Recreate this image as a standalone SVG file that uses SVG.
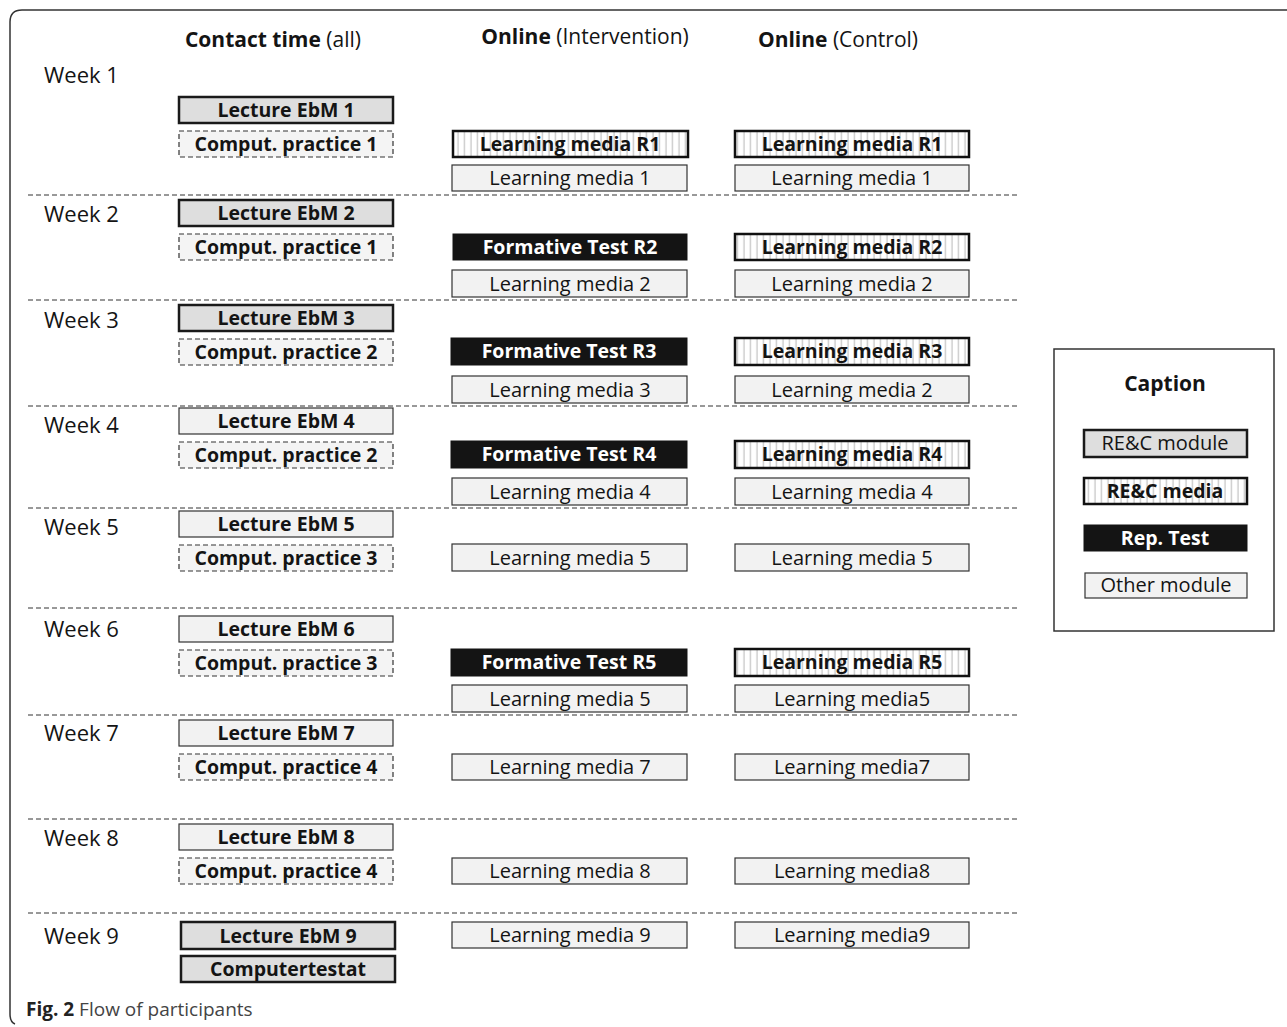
<svg xmlns="http://www.w3.org/2000/svg" width="1287" height="1027" viewBox="0 0 1287 1027">
<defs>
<pattern id="stripes" patternUnits="userSpaceOnUse" width="6.5" height="10" x="0" y="0">
<rect width="6.5" height="10" fill="#ffffff"/>
<line x1="3" y1="0" x2="3" y2="10" stroke="#c2c2c2" stroke-width="1.2"/>
</pattern>
<style>
text{font-family:"Open Sans","Liberation Sans",sans-serif;fill:#141414;}
.wk{font-size:22px;}
.hd{font-size:21px;text-anchor:middle;}
.b{font-weight:bold;}
.t{font-size:20px;text-anchor:middle;}
.tb{font-size:19.5px;font-weight:bold;text-anchor:middle;}
.tw{font-size:19.5px;font-weight:bold;text-anchor:middle;fill:#ffffff;}
.hi{fill:#dedede;stroke:#1a1a1a;stroke-width:2.5;}
.lo{fill:#f2f2f2;stroke:#333;stroke-width:1.2;}
.pr{fill:#f4f4f4;stroke:#333;stroke-width:1.2;stroke-dasharray:5 3;}
.st{fill:url(#stripes);stroke:#111;stroke-width:2.5;}
.bk{fill:#141414;stroke:#141414;stroke-width:1;}
.sep{stroke:#333;stroke-width:1;stroke-dasharray:5 3;fill:none;}
</style>
</defs>
<rect width="1287" height="1027" fill="#ffffff"/>
<path d="M1287 10 H22 Q10 10 10 22 V1014 Q10 1022 15 1024" fill="none" stroke="#333" stroke-width="1.5"/>

<g id="headers">
<text class="hd" x="273" y="47"><tspan class="b">Contact time</tspan> (all)</text>
<text class="hd" x="585" y="44"><tspan class="b">Online</tspan> (Intervention)</text>
<text class="hd" x="838" y="47"><tspan class="b">Online</tspan> (Control)</text>
</g>

<g id="week-labels">
<text class="wk" x="44" y="83">Week 1</text>
<text class="wk" x="44" y="222">Week 2</text>
<text class="wk" x="44" y="328">Week 3</text>
<text class="wk" x="44" y="433">Week 4</text>
<text class="wk" x="44" y="535">Week 5</text>
<text class="wk" x="44" y="637">Week 6</text>
<text class="wk" x="44" y="741">Week 7</text>
<text class="wk" x="44" y="846">Week 8</text>
<text class="wk" x="44" y="944">Week 9</text>
</g>

<g id="dividers">
<line class="sep" x1="28" y1="195" x2="1018" y2="195"/>
<line class="sep" x1="28" y1="300" x2="1018" y2="300"/>
<line class="sep" x1="28" y1="406" x2="1018" y2="406"/>
<line class="sep" x1="28" y1="508" x2="1018" y2="508"/>
<line class="sep" x1="28" y1="608" x2="1018" y2="608"/>
<line class="sep" x1="28" y1="715" x2="1018" y2="715"/>
<line class="sep" x1="28" y1="819" x2="1018" y2="819"/>
<line class="sep" x1="28" y1="913" x2="1018" y2="913"/>
</g>

<!-- Week 1 -->
<g id="w1-lecture"><rect class="hi" x="179" y="97" width="214" height="26"/><text class="tb" x="286" y="117">Lecture EbM 1</text></g>
<g id="w1-practice"><rect class="pr" x="179" y="131" width="214" height="26"/><text class="tb" x="286" y="151">Comput. practice 1</text></g>
<g id="w1-int-r"><rect class="st" x="453" y="131" width="235" height="26"/><text class="tb" x="570" y="151">Learning media R1</text></g>
<g id="w1-int-m"><rect class="lo" x="452" y="165" width="235" height="26"/><text class="t" x="570" y="185">Learning media 1</text></g>
<g id="w1-ctl-r"><rect class="st" x="735" y="131" width="234" height="26"/><text class="tb" x="852" y="151">Learning media R1</text></g>
<g id="w1-ctl-m"><rect class="lo" x="735" y="165" width="234" height="26"/><text class="t" x="852" y="185">Learning media 1</text></g>

<!-- Week 2 -->
<g id="w2-lecture"><rect class="hi" x="179" y="200" width="214" height="26"/><text class="tb" x="286" y="220">Lecture EbM 2</text></g>
<g id="w2-practice"><rect class="pr" x="179" y="234" width="214" height="26"/><text class="tb" x="286" y="254">Comput. practice 1</text></g>
<g id="w2-int-t"><rect class="bk" x="453" y="234" width="234" height="26"/><text class="tw" x="570" y="254">Formative Test R2</text></g>
<g id="w2-int-m"><rect class="lo" x="452" y="270" width="235" height="27"/><text class="t" x="570" y="291">Learning media 2</text></g>
<g id="w2-ctl-r"><rect class="st" x="735" y="234" width="234" height="26"/><text class="tb" x="852" y="254">Learning media R2</text></g>
<g id="w2-ctl-m"><rect class="lo" x="735" y="270" width="234" height="27"/><text class="t" x="852" y="291">Learning media 2</text></g>

<!-- Week 3 -->
<g id="w3-lecture"><rect class="hi" x="179" y="305" width="214" height="26"/><text class="tb" x="286" y="325">Lecture EbM 3</text></g>
<g id="w3-practice"><rect class="pr" x="179" y="339" width="214" height="26"/><text class="tb" x="286" y="359">Comput. practice 2</text></g>
<g id="w3-int-t"><rect class="bk" x="451" y="338" width="236" height="27"/><text class="tw" x="569" y="358">Formative Test R3</text></g>
<g id="w3-int-m"><rect class="lo" x="452" y="376" width="235" height="27"/><text class="t" x="570" y="397">Learning media 3</text></g>
<g id="w3-ctl-r"><rect class="st" x="735" y="338" width="234" height="27"/><text class="tb" x="852" y="358">Learning media R3</text></g>
<g id="w3-ctl-m"><rect class="lo" x="735" y="376" width="234" height="27"/><text class="t" x="852" y="397">Learning media 2</text></g>

<!-- Week 4 -->
<g id="w4-lecture"><rect class="lo" x="179" y="408" width="214" height="26"/><text class="tb" x="286" y="428">Lecture EbM 4</text></g>
<g id="w4-practice"><rect class="pr" x="179" y="442" width="214" height="26"/><text class="tb" x="286" y="462">Comput. practice 2</text></g>
<g id="w4-int-t"><rect class="bk" x="451" y="441" width="236" height="27"/><text class="tw" x="569" y="461">Formative Test R4</text></g>
<g id="w4-int-m"><rect class="lo" x="452" y="478" width="235" height="27"/><text class="t" x="570" y="499">Learning media 4</text></g>
<g id="w4-ctl-r"><rect class="st" x="735" y="441" width="234" height="27"/><text class="tb" x="852" y="461">Learning media R4</text></g>
<g id="w4-ctl-m"><rect class="lo" x="735" y="478" width="234" height="27"/><text class="t" x="852" y="499">Learning media 4</text></g>

<!-- Week 5 -->
<g id="w5-lecture"><rect class="lo" x="179" y="511" width="214" height="26"/><text class="tb" x="286" y="531">Lecture EbM 5</text></g>
<g id="w5-practice"><rect class="pr" x="179" y="545" width="214" height="26"/><text class="tb" x="286" y="565">Comput. practice 3</text></g>
<g id="w5-int-m"><rect class="lo" x="452" y="544" width="235" height="27"/><text class="t" x="570" y="565">Learning media 5</text></g>
<g id="w5-ctl-m"><rect class="lo" x="735" y="544" width="234" height="27"/><text class="t" x="852" y="565">Learning media 5</text></g>

<!-- Week 6 -->
<g id="w6-lecture"><rect class="lo" x="179" y="616" width="214" height="26"/><text class="tb" x="286" y="636">Lecture EbM 6</text></g>
<g id="w6-practice"><rect class="pr" x="179" y="650" width="214" height="26"/><text class="tb" x="286" y="670">Comput. practice 3</text></g>
<g id="w6-int-t"><rect class="bk" x="451" y="649" width="236" height="27"/><text class="tw" x="569" y="669">Formative Test R5</text></g>
<g id="w6-int-m"><rect class="lo" x="452" y="685" width="235" height="27"/><text class="t" x="570" y="706">Learning media 5</text></g>
<g id="w6-ctl-r"><rect class="st" x="735" y="649" width="234" height="27"/><text class="tb" x="852" y="669">Learning media R5</text></g>
<g id="w6-ctl-m"><rect class="lo" x="735" y="685" width="234" height="27"/><text class="t" x="852" y="706">Learning media5</text></g>

<!-- Week 7 -->
<g id="w7-lecture"><rect class="lo" x="179" y="720" width="214" height="26"/><text class="tb" x="286" y="740">Lecture EbM 7</text></g>
<g id="w7-practice"><rect class="pr" x="179" y="754" width="214" height="26"/><text class="tb" x="286" y="774">Comput. practice 4</text></g>
<g id="w7-int-m"><rect class="lo" x="452" y="754" width="235" height="26"/><text class="t" x="570" y="774">Learning media 7</text></g>
<g id="w7-ctl-m"><rect class="lo" x="735" y="754" width="234" height="26"/><text class="t" x="852" y="774">Learning media7</text></g>

<!-- Week 8 -->
<g id="w8-lecture"><rect class="lo" x="179" y="824" width="214" height="26"/><text class="tb" x="286" y="844">Lecture EbM 8</text></g>
<g id="w8-practice"><rect class="pr" x="179" y="858" width="214" height="26"/><text class="tb" x="286" y="878">Comput. practice 4</text></g>
<g id="w8-int-m"><rect class="lo" x="452" y="858" width="235" height="26"/><text class="t" x="570" y="878">Learning media 8</text></g>
<g id="w8-ctl-m"><rect class="lo" x="735" y="858" width="234" height="26"/><text class="t" x="852" y="878">Learning media8</text></g>

<!-- Week 9 -->
<g id="w9-lecture"><rect class="hi" x="181" y="922" width="214" height="27"/><text class="tb" x="288" y="943">Lecture EbM 9</text></g>
<g id="w9-test"><rect class="hi" x="181" y="956" width="214" height="26"/><text class="tb" x="288" y="976">Computertestat</text></g>
<g id="w9-int-m"><rect class="lo" x="452" y="922" width="235" height="26"/><text class="t" x="570" y="942">Learning media 9</text></g>
<g id="w9-ctl-m"><rect class="lo" x="735" y="922" width="234" height="26"/><text class="t" x="852" y="942">Learning media9</text></g>

<!-- Legend -->
<g id="legend">
<rect x="1054" y="349" width="220" height="282" fill="#ffffff" stroke="#333" stroke-width="1.5"/>
<text x="1165" y="391" style="font-size:21px;font-weight:bold;text-anchor:middle">Caption</text>
<g id="legend-rec-module"><rect class="hi" x="1084" y="430" width="163" height="27"/><text class="t" x="1165" y="450">RE&amp;C module</text></g>
<g id="legend-rec-media"><rect class="st" x="1084" y="478" width="163" height="26"/><text class="tb" x="1165" y="498">RE&amp;C media</text></g>
<g id="legend-rep-test"><rect class="bk" x="1084" y="525" width="163" height="26"/><text class="tw" x="1165" y="545">Rep. Test</text></g>
<g id="legend-other"><rect class="lo" x="1085" y="573" width="162" height="25"/><text class="t" x="1166" y="592">Other module</text></g>
</g>

<g id="figure-caption">
<text x="26" y="1016" style="font-size:19px"><tspan style="font-weight:bold;fill:#222">Fig. 2</tspan><tspan style="fill:#444"> Flow of participants</tspan></text>
</g>
</svg>
